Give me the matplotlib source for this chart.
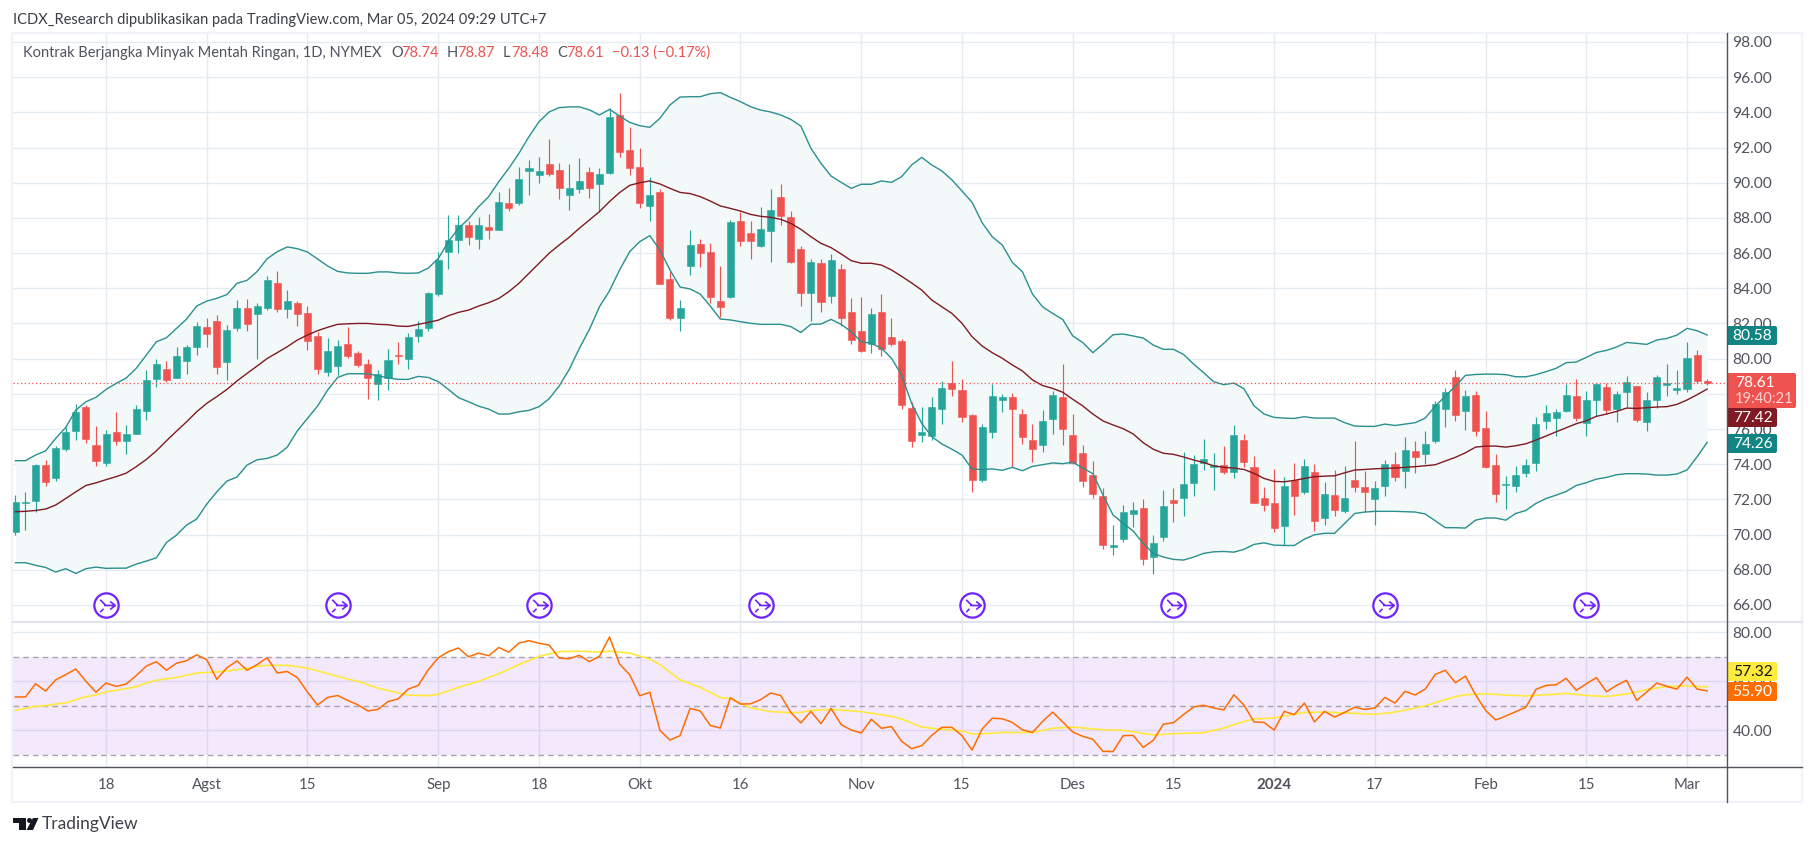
import matplotlib
matplotlib.use("Agg")
import matplotlib.pyplot as plt
from matplotlib.patches import FancyBboxPatch, Polygon, Circle, Rectangle
from matplotlib.path import Path

plt.rcParams['font.family'] = ['Lato', 'DejaVu Sans']

# Data, one entry per trading day
opens = [70.16,71.81,71.92,73.95,73.23,74.88,75.90,77.25,75.09,74.06,
    75.83,75.31,75.71,77.02,78.84,79.41,78.90,79.86,80.66,81.80,
    82.14,79.81,81.74,82.88,82.53,82.88,84.30,82.82,83.16,82.59,
    81.28,79.24,79.58,80.83,80.32,79.69,78.55,78.90,80.20,79.98,
    81.28,81.74,83.67,86.08,86.75,87.60,86.80,87.48,87.32,88.85,
    88.85,90.67,90.44,91.07,90.73,89.30,89.64,90.61,89.93,90.56,
    93.85,91.86,90.89,88.68,89.47,84.53,82.31,85.27,86.52,86.06,
    83.28,83.50,87.82,87.14,86.40,87.26,89.19,88.05,86.23,83.73,
    85.44,83.56,85.10,82.65,81.57,80.83,82.65,81.23,81.00,77.20,
    75.66,75.60,77.14,78.62,78.22,76.80,73.10,75.83,77.65,77.82,
    76.85,75.38,75.09,76.57,77.82,75.66,74.64,73.39,72.19,69.29,
    69.75,71.17,71.51,68.72,69.86,71.97,72.08,72.93,74.07,73.84,
    73.95,73.55,75.37,73.84,72.07,71.79,70.48,73.10,72.41,73.55,
    70.94,72.24,71.33,73.10,72.70,72.02,72.76,74.01,73.61,74.75,
    74.58,75.31,77.13,78.95,77.02,77.93,76.05,73.95,72.81,72.76,
    73.50,74.06,76.45,76.62,77.02,77.87,76.34,77.65,78.38,77.13,
    78.10,78.44,76.39,77.65,78.50,78.21,78.27,80.20,78.74]
closes = [71.85,71.85,73.95,73.00,74.92,75.83,76.96,75.43,74.18,75.71,
    75.31,75.71,77.13,78.78,79.69,78.78,80.15,80.66,81.85,81.40,
    79.52,81.62,82.88,81.97,82.99,84.47,82.82,83.27,82.53,81.00,
    79.41,80.43,80.71,80.15,79.63,78.90,79.12,79.92,80.15,81.23,
    81.68,83.73,85.60,86.75,87.60,86.92,87.60,87.32,88.91,88.56,
    90.21,90.84,90.67,90.50,89.70,89.70,90.10,89.70,90.50,93.74,
    91.75,90.84,88.85,89.30,84.24,82.31,82.88,86.46,86.01,83.50,
    82.93,87.77,86.69,86.69,87.37,88.45,88.11,85.49,83.73,85.49,
    83.22,85.61,82.31,81.06,80.43,82.54,80.55,80.83,77.37,75.32,
    75.83,77.25,78.33,78.28,76.68,73.10,76.12,77.88,77.82,77.14,
    75.55,74.86,76.46,77.93,76.00,74.07,73.05,72.31,69.41,69.41,
    71.28,71.40,68.61,69.52,71.62,71.80,72.88,74.01,74.30,73.96,
    73.55,75.66,74.12,71.79,71.68,70.37,72.76,72.19,73.89,70.77,
    72.30,71.39,72.07,72.70,72.41,72.64,74.01,73.27,74.80,74.40,
    75.14,77.42,78.10,76.79,77.87,75.88,73.84,72.30,72.87,73.38,
    73.95,76.28,76.91,76.96,77.93,76.62,77.65,78.55,77.08,77.99,
    78.67,76.51,77.65,78.95,78.61,78.33,80.03,78.73,78.61]
highs = [72.24,72.41,74.01,74.23,75.03,76.13,77.42,77.36,76.17,75.94,
    76.96,76.22,77.36,79.35,79.98,79.86,80.66,80.77,82.08,82.31,
    82.48,81.91,83.33,83.39,83.16,84.69,84.98,83.90,83.27,82.99,
    81.51,81.17,81.06,81.80,80.43,79.98,79.35,80.54,80.94,81.45,
    82.14,83.80,86.08,88.17,88.17,87.83,88.05,88.22,89.48,89.70,
    90.90,91.29,91.46,92.49,91.12,91.07,91.41,90.90,90.84,94.25,
    95.10,93.17,91.97,90.33,89.64,84.98,83.33,87.31,86.80,86.57,
    85.27,87.88,88.34,87.82,88.62,89.64,89.93,88.39,86.40,85.66,
    85.66,85.95,85.38,83.45,83.50,82.88,83.67,82.31,81.12,77.54,
    77.25,77.82,78.73,79.87,78.84,76.85,76.29,78.56,77.99,78.05,
    77.14,76.29,77.08,78.16,79.70,76.85,75.09,74.18,72.65,70.54,
    71.68,71.85,72.02,69.98,72.53,72.65,74.69,74.52,75.43,74.64,
    75.03,76.22,75.71,74.46,72.70,73.72,73.27,74.06,74.29,74.01,
    72.98,73.67,73.89,75.31,73.61,73.04,74.23,74.69,75.54,75.31,
    75.88,77.59,78.33,79.35,78.21,78.16,77.02,74.58,73.32,73.89,
    74.29,76.68,77.36,77.13,78.55,78.84,78.16,78.55,78.61,78.16,
    79.01,78.44,78.10,79.07,79.69,79.35,80.94,80.49,78.87]
lows = [69.99,70.25,71.30,72.76,73.06,74.76,75.37,75.20,73.91,73.91,
    75.09,74.58,75.71,76.51,78.38,78.67,78.90,79.12,80.20,80.66,
    79.12,78.78,81.57,81.57,79.98,82.76,82.65,82.31,81.85,80.49,
    79.12,79.01,79.07,80.03,79.52,77.70,77.65,78.21,79.69,79.41,
    80.94,81.57,83.56,85.10,86.01,86.46,86.23,86.80,87.32,88.39,
    88.74,89.30,89.99,90.38,89.08,88.45,89.42,89.13,88.34,90.50,
    91.46,90.44,88.56,87.82,84.24,82.20,81.57,84.75,85.21,83.16,
    82.37,83.45,86.40,85.66,86.35,85.49,87.60,85.44,82.99,82.14,
    82.65,83.16,81.85,80.83,80.38,80.32,80.15,80.72,77.14,74.98,
    75.26,75.38,76.29,77.88,76.40,72.42,72.99,75.49,76.97,73.84,
    75.15,74.13,74.69,75.72,75.09,74.01,72.70,72.08,69.18,68.84,
    69.58,70.43,68.27,67.76,69.63,70.71,71.06,72.19,73.67,72.53,
    73.44,73.21,73.84,71.79,71.33,70.14,69.40,71.11,72.30,70.20,
    70.54,71.05,71.22,72.41,71.28,70.54,72.19,73.04,72.64,73.49,
    74.01,75.20,76.11,76.45,75.94,75.60,73.78,71.85,71.45,72.41,
    73.27,73.61,76.00,75.60,76.96,76.45,75.60,76.74,76.85,76.39,
    77.25,76.39,75.88,77.19,77.87,77.99,78.10,78.61,78.48]

bb_upper = [74.20,74.20,74.52,74.76,75.47,76.09,77.08,77.55,77.80,78.25,
    78.59,78.90,79.45,80.20,80.96,81.19,81.72,82.25,82.99,83.27,
    83.43,83.64,84.28,84.45,84.95,85.68,86.08,86.35,86.25,86.06,
    85.67,85.27,84.96,84.87,84.85,84.85,84.93,84.93,84.87,84.85,
    84.87,85.15,85.70,86.65,87.41,87.94,88.64,89.21,90.06,90.82,
    91.67,92.62,93.47,94.02,94.27,94.31,94.31,94.14,93.85,94.17,
    93.79,93.43,93.24,93.15,93.66,94.42,94.87,94.89,94.89,95.06,
    95.12,94.85,94.61,94.32,94.13,94.02,93.85,93.60,93.22,91.95,
    91.10,90.38,90.02,89.68,89.91,89.91,90.10,90.02,90.34,91.01,
    91.44,91.01,90.67,90.16,89.53,88.89,87.73,86.93,86.46,85.47,
    84.94,83.67,82.95,82.57,82.23,81.29,80.91,80.34,80.83,81.36,
    81.40,81.29,81.17,80.77,80.53,80.53,80.24,79.69,79.20,78.69,
    78.52,78.61,78.29,77.32,76.85,76.66,76.62,76.60,76.70,76.62,
    76.62,76.62,76.36,76.17,76.15,76.15,76.28,76.20,76.28,76.36,
    76.62,77.30,77.87,78.44,79.05,79.10,79.12,79.12,79.09,78.97,
    78.97,79.09,79.26,79.45,79.77,79.81,80.07,80.35,80.47,80.66,
    80.92,80.87,80.81,81.06,81.15,81.34,81.72,81.59,81.34]
bb_lower = [68.40,68.40,68.25,68.13,67.87,68.06,67.79,68.06,68.15,68.08,
    68.09,68.09,68.32,68.49,68.68,69.55,69.97,70.54,70.88,71.73,
    72.43,73.04,73.27,73.95,74.25,74.33,74.52,74.97,75.90,76.60,
    77.30,78.21,78.93,79.14,79.14,79.14,79.03,78.90,78.82,78.82,
    78.99,78.93,78.69,78.25,77.78,77.55,77.30,77.13,76.85,76.85,
    76.98,77.06,77.27,77.72,78.44,79.39,80.58,81.66,82.95,83.86,
    85.04,86.08,86.65,86.99,86.18,85.04,84.07,83.96,83.67,82.99,
    82.25,82.20,82.10,82.01,81.95,81.95,81.95,81.82,81.49,81.95,
    81.97,82.23,81.95,81.53,80.96,80.87,80.59,80.02,79.07,77.46,
    76.32,75.57,75.15,74.85,74.52,73.73,73.69,73.73,73.65,73.82,
    73.63,73.88,73.97,74.07,74.03,74.11,73.78,73.46,72.25,71.11,
    70.64,70.20,69.50,68.93,68.72,68.59,68.55,68.72,68.93,69.02,
    69.04,69.00,69.16,69.44,69.53,69.40,69.38,69.38,69.74,69.99,
    70.07,70.07,70.63,71.20,71.28,71.32,71.32,71.32,71.30,71.28,
    71.17,70.78,70.39,70.39,70.37,70.82,70.94,70.94,70.82,71.20,
    71.37,71.77,72.05,72.24,72.45,72.79,72.95,73.15,73.25,73.40,
    73.46,73.46,73.44,73.38,73.38,73.44,73.67,74.42,75.24]
bb_basis = [71.30,71.32,71.37,71.45,71.68,72.05,72.43,72.79,72.94,73.12,
    73.29,73.49,73.86,74.27,74.76,75.33,75.88,76.41,76.98,77.46,
    77.84,78.25,78.73,79.16,79.58,80.01,80.34,80.68,81.06,81.34,
    81.59,81.78,81.95,81.98,82.00,82.00,81.95,81.93,81.85,81.83,
    81.95,82.06,82.19,82.44,82.63,82.76,82.99,83.18,83.42,83.81,
    84.28,84.85,85.42,85.99,86.46,86.90,87.41,87.88,88.36,88.93,
    89.44,89.85,90.00,90.10,89.93,89.68,89.45,89.38,89.21,88.96,
    88.68,88.54,88.39,88.20,88.09,88.03,87.92,87.69,87.35,86.93,
    86.55,86.31,85.95,85.57,85.42,85.42,85.32,85.04,84.68,84.30,
    83.90,83.33,82.95,82.57,82.01,81.25,80.72,80.34,80.02,79.64,
    79.30,78.79,78.47,78.31,78.09,77.69,77.31,76.85,76.46,76.23,
    76.02,75.72,75.22,74.85,74.62,74.56,74.41,74.24,74.09,73.91,
    73.82,73.78,73.70,73.48,73.19,73.02,73.00,73.08,73.19,73.29,
    73.32,73.34,73.51,73.67,73.70,73.74,73.76,73.78,73.82,73.86,
    73.91,73.97,74.18,74.39,74.65,74.97,75.03,75.03,74.97,75.05,
    75.16,75.37,75.60,75.84,76.07,76.30,76.47,76.72,76.85,77.00,
    77.19,77.17,77.21,77.25,77.27,77.40,77.65,77.95,78.27]

rsi = [53.5,53.5,58.9,55.9,60.5,62.6,64.9,59.9,55.4,59.2,
    57.8,58.8,62.2,66.1,67.9,64.4,67.3,68.3,70.7,68.7,
    60.7,65.4,68.2,64.4,66.7,69.5,63.3,63.9,61.4,55.5,
    50.2,53.3,54.1,52.1,50.3,47.8,48.4,51.6,52.7,56.7,
    58.2,64.6,69.5,72.0,73.5,69.9,71.4,70.3,73.7,71.8,
    75.5,76.5,75.4,74.7,69.4,69.1,70.5,67.9,70.1,78.0,
    66.9,62.6,54.0,55.4,39.9,35.9,37.7,48.8,47.8,41.9,
    40.8,53.2,50.6,50.7,52.4,55.1,54.1,47.2,42.9,47.6,
    42.6,48.8,42.2,40.0,38.8,44.4,40.7,41.4,35.4,32.4,
    33.6,37.8,41.1,41.1,37.7,31.8,40.4,44.8,44.6,43.1,
    40.1,39.0,43.5,47.3,43.3,39.2,37.4,36.2,31.3,31.2,
    37.7,37.8,32.9,35.8,42.4,43.0,46.3,49.4,50.1,49.0,
    48.2,54.4,50.2,43.3,43.1,40.0,47.6,46.3,51.0,43.3,
    47.6,45.3,47.2,49.3,48.4,49.0,53.3,51.0,55.8,54.3,
    56.7,62.7,64.4,59.3,62.0,54.4,48.0,44.1,45.7,47.5,
    49.3,56.6,58.2,58.5,61.1,56.2,58.9,61.4,55.6,58.2,
    60.3,52.1,55.5,59.2,57.8,56.7,61.6,56.7,56.0]

# the yellow average is smooth, read at the bars where it bends
rsi_ma_bars = [0,2,3,4,5,6,7,8,9,11,12,13,14,16,18,20,22,24,25,27,29,31,33,34,36,38,39,
    41,42,44,46,48,50,52,54,56,58,59,61,63,64,66,68,70,71,72,73,75,77,78,79,81,84,87,88,
    90,92,94,95,96,98,101,103,105,108,110,113,115,118,120,122,123,125,128,130,133,135,
    137,140,143,144,146,148,150,153,154,156,158,160,162,164,166,168]
rsi_ma = [48.0,49.7,49.9,50.6,51.0,52.4,53.6,54.3,55.6,56.9,57.7,59.2,60.3,61.5,63.3,63.7,64.6,66.0,66.4,66.4,65.3,63.0,60.8,59.9,57.1,55.2,54.3,
    54.0,54.6,57.4,59.9,63.0,66.7,70.1,72.0,72.2,71.8,72.2,71.4,69.0,66.7,60.5,57.4,53.3,52.8,50.9,49.1,47.5,47.1,47.2,48.0,48.4,47.5,45.6,44.5,
    41.2,40.3,39.6,38.4,38.4,39.0,39.0,40.7,41.2,40.1,39.9,38.0,38.5,38.9,40.8,43.5,44.5,44.9,47.2,47.3,46.8,46.4,
    47.3,49.9,53.6,54.4,54.8,54.3,53.9,54.6,55.0,54.1,53.7,54.7,56.5,57.8,58.0,57.6]

date_bars = [9, 19, 29, 42, 52, 62, 72, 84, 94, 105, 115, 125, 135, 146, 156, 166]
date_labels = ["18", "Agst", "15", "Sep", "18", "Okt", "16", "Nov", "15", "Des", "15", "2024", "17", "Feb", "15", "Mar"]
price_ticks = [66, 68, 70, 72, 74, 76, 78, 80, 82, 84, 86, 88, 90, 92, 94, 96, 98]
rsi_ticks = [40, 60, 80]
split_bars = [9, 32, 52, 74, 95, 115, 136, 156]
last_close = 78.61

W, H = 1815, 846
LEFT, AXIS_X, TOP, MID, BOTTOM = 13, 1727, 33, 622, 767
GREEN, RED = "#26a69a", "#ef5350"
TEAL, MAROON = "#2a8f8f", "#801922"
GRID, TXT = "#e4ecf2", "#50535e"
PURPLE = "#6f22ff"


def box(ax, px0, py0, px1, py1):
    # axes rectangle from pixel edges
    ax.set_position([px0 / W, 1 - py1 / H, (px1 - px0) / W, (py1 - py0) / H])


fig = plt.figure(figsize=(W / 100, H / 100), dpi=100, facecolor="white")
ax = fig.add_axes([0, 0, 1, 1])
ax2 = fig.add_axes([0, 0, 1, 1])
box(ax, LEFT, TOP, AXIS_X, MID)
box(ax2, LEFT, MID, AXIS_X, BOTTOM)

bars = list(range(len(closes)))
colors = [GREEN if c >= o else RED for o, c in zip(opens, closes)]
xmin, xmax = -0.24, 169.97

# price pane
ax.fill_between(bars, bb_lower, bb_upper, color="#f3f9f9", lw=0, zorder=1.5)
ax.vlines(bars, lows, highs, colors=colors, lw=0.85, zorder=3)
ax.bar(bars, [c - o for o, c in zip(opens, closes)], bottom=opens, width=0.7,
       color=colors, edgecolor=colors, lw=0.4, zorder=3.1)
ax.plot(bars, bb_upper, color=TEAL, lw=1.0, zorder=4)
ax.plot(bars, bb_lower, color=TEAL, lw=1.0, zorder=4)
ax.plot(bars, bb_basis, color=MAROON, lw=1.0, zorder=4)
ax.axhline(last_close, color=RED, lw=0.9, ls=(0, (1, 2)), zorder=5)

ax.set_xlim(xmin, xmax)
ax.set_ylim(65.03, 98.51)
ax.set_yticks(price_ticks)
ax.set_yticklabels(["%.2f" % t for t in price_ticks])
ax.set_xticks(date_bars)
ax.tick_params(axis="x", length=0, labelbottom=False)

# split markers under the candles
arrow = Path([(-6.3, 5.7), (-0.7, 0), (-2.3, 0), (8.7, 0), (3.7, 4), (8.7, 0), (3.7, -4), (-6.3, -6.7), (-3, -3.3)],
             [Path.MOVETO, Path.LINETO, Path.MOVETO, Path.LINETO, Path.MOVETO, Path.LINETO, Path.LINETO, Path.MOVETO, Path.LINETO])
ax.plot(split_bars, [66] * len(split_bars), ls="", marker="o", ms=17.5, mfc="white", mec=PURPLE, mew=1.6, zorder=6)
ax.plot(split_bars, [66] * len(split_bars), ls="", marker=arrow, ms=12.5, mfc="none", mec=PURPLE, mew=1.2, zorder=7)

# rsi pane
ax2.axhspan(30, 70, color="#8f00e0", alpha=0.09, lw=0, zorder=1.5)
for level in [30, 50, 70]:
    ax2.axhline(level, color="#a7a3ad", lw=1, ls=(0, (4, 3)), zorder=2)
ax2.plot(rsi_ma_bars, rsi_ma, color="#ffe93b", lw=1.2, zorder=3)
ax2.plot(bars, rsi, color="#ff6d00", lw=1.1, zorder=4)
ax2.set_xlim(xmin, xmax)
ax2.set_ylim(24.9, 84.1)
ax2.set_yticks(rsi_ticks)
ax2.set_yticklabels(["%.2f" % t for t in rsi_ticks])
ax2.set_xticks(date_bars)
ax2.set_xticklabels(date_labels)
ax2.get_xticklabels()[date_labels.index("2024")].set_fontweight("bold")
ax2.tick_params(axis="x", length=0, pad=8, labelsize=10.8, labelcolor=TXT)

for a in (ax, ax2):
    a.set_facecolor("white")
    a.grid(True, color=GRID, lw=1)
    a.set_axisbelow(True)
    a.yaxis.tick_right()
    a.tick_params(axis="y", length=0, pad=4, labelsize=11.2, labelcolor=TXT)
    for s in a.spines.values():
        s.set_visible(False)

# overlay in pixels for the frame, header, price tags and logo
ov = fig.add_axes([0, 0, 1, 1], zorder=10)
ov.set_xlim(0, W)
ov.set_ylim(H, 0)
ov.axis("off")
ov.patch.set_alpha(0)

ov.add_patch(Rectangle((12, TOP), 1790, 769, fill=False, ec="#f0f3fa", lw=1.6))
ov.plot([LEFT, 1802], [MID, MID], color="#e0e3eb", lw=1.5)
ov.plot([LEFT, 1802], [BOTTOM, BOTTOM], color=TXT, lw=1)
ov.plot([AXIS_X, AXIS_X], [TOP, 802], color=TXT, lw=1)

ov.text(13, 20, "ICDX_Research dipublikasikan pada TradingView.com, Mar 05, 2024 09:29 UTC+7",
        fontsize=10.5, color="#3b3e47", va="center")
ov.text(23, 53, "Kontrak Berjangka Minyak Mentah Ringan, 1D, NYMEX", fontsize=10.5, color="#50535e", va="center")
for px, s, col in [(391, "O", TXT), (401, "78.74", RED), (447, "H", TXT), (457, "78.87", RED),
                   (503, "L", TXT), (511, "78.48", RED), (557, "C", TXT), (566, "78.61", RED),
                   (612, "\u22120.13 (\u22120.17%)", RED)]:
    ov.text(px, 53, s, fontsize=10.5, color=col, va="center")

tags = [(326, 345, 1777, "80.58", "#138484", "white"), (408, 427, 1777, "77.42", MAROON, "white"),
        (434, 453, 1777, "74.26", "#138484", "white"), (662, 681, 1777, "57.32", "#ffeb3b", "#131722"),
        (682, 701, 1777, "55.90", "#ff6d00", "white")]
for y0, y1, x1, s, bg, fg in tags:
    ov.add_patch(FancyBboxPatch((AXIS_X, y0), x1 - AXIS_X, y1 - y0, boxstyle="round,pad=0,rounding_size=2", fc=bg, ec="none"))
    ov.text(1752.5, (y0 + y1) / 2, s, fontsize=11.2, color=fg, ha="center", va="center")
ov.add_patch(FancyBboxPatch((AXIS_X, 373), 1796 - AXIS_X, 35, boxstyle="round,pad=0,rounding_size=2", fc=RED, ec="none"))
ov.text(1735, 383, "78.61", fontsize=11.2, color="white", va="center")
ov.text(1735, 399, "19:40:21", fontsize=10.6, color="#fbd4d3", va="center")

# TradingView logo
ov.add_patch(Polygon([(13, 818), (26, 818), (26, 830), (19.5, 830), (19.5, 823), (13, 823)], fc="#131722", ec="none"))
ov.add_patch(Circle((29.5, 820.5), 2.5, fc="#131722", ec="none"))
ov.add_patch(Polygon([(33, 818), (38.5, 818), (33, 830), (26.5, 830)], fc="#131722", ec="none"))
ov.text(42, 824, "TradingView", fontsize=12.5, color="#3d4049", va="center")

fig.savefig("out.png", dpi=100, facecolor="white")
